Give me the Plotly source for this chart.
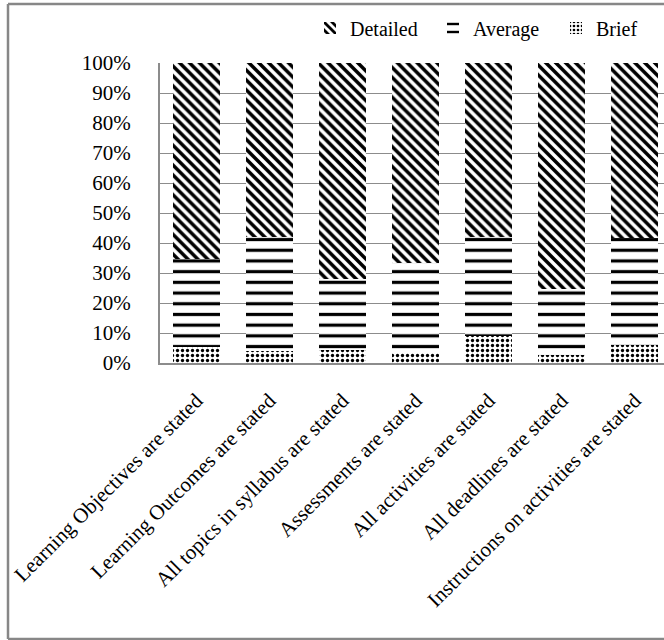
import plotly.graph_objects as go

# Share of syllabi by level of detail for each criterion (percent)
categories = [
    "Learning Objectives are stated",
    "Learning Outcomes are stated",
    "All topics in syllabus are stated",
    "Assessments are stated",
    "All activities are stated",
    "All deadlines are stated",
    "Instructions on activities are stated",
]
brief = [5.2, 4.1, 4.4, 3.2, 9.0, 2.7, 6.0]
average = [29.4, 38.0, 23.5, 30.0, 33.1, 21.9, 35.6]
detailed = [65.4, 57.9, 72.1, 66.8, 57.9, 75.4, 58.4]
y_ticks = [0, 10, 20, 30, 40, 50, 60, 70, 80, 90, 100]
y_tick_text = [f"{v}%" for v in y_ticks]

W, H = 664, 640
L, R, T, B = 160, 0, 63, 277
FONT = "Liberation Serif"


def px_x(x):
    return (x - L) / (W - L - R)


def px_y(y):
    return (H - B - y) / (H - T - B)


def bar_marker(shape, size, solidity):
    return dict(color="white", line=dict(width=0),
                pattern=dict(shape=shape, fgcolor="black", bgcolor="white",
                             fgopacity=1, size=size, solidity=solidity))


fig = go.Figure()
fig.add_bar(x=categories, y=brief, name="Brief",
            marker=bar_marker(".", 5, 0.35))
fig.add_bar(x=categories, y=average, name="Average",
            marker=bar_marker("-", 10.7, 0.3))
fig.add_bar(x=categories, y=detailed, name="Detailed",
            marker=bar_marker("\\", 7, 0.5))

# outer chart frame (right edge lies beyond the visible page)
frame = dict(type="line", xref="paper", yref="paper",
             line=dict(color="#878787", width=2.5))
fig.add_shape(**frame, x0=px_x(8), x1=px_x(8), y0=px_y(4), y1=px_y(639))
fig.add_shape(**frame, x0=px_x(8), x1=px_x(700), y0=px_y(4), y1=px_y(4))
fig.add_shape(**frame, x0=px_x(8), x1=px_x(700), y0=px_y(639), y1=px_y(639))

fig.update_layout(
    width=W, height=H,
    margin=dict(l=L, r=R, t=T, b=B, pad=0, autoexpand=False),
    paper_bgcolor="white", plot_bgcolor="white",
    barmode="stack", bargap=0.356,
    font=dict(family=FONT, size=20, color="black"),
    showlegend=True,
    legend=dict(orientation="h", traceorder="reversed",
                xref="container", yref="container",
                x=310 / W, xanchor="left", y=1 - 28 / H, yanchor="middle",
                font=dict(family=FONT, size=20, color="black"),
                entrywidth=78, bgcolor="rgba(0,0,0,0)"),
    xaxis=dict(range=[-0.5, 6.4], showgrid=False, tickangle=-45,
               showline=True, linecolor="#8c8c8c", linewidth=2,
               ticks="", ticklabelstandoff=15,
               tickfont=dict(family=FONT, size=21, color="black")),
    yaxis=dict(range=[0, 100], tickvals=y_ticks, ticktext=y_tick_text,
               showgrid=True, gridcolor="#8c8c8c", gridwidth=1.2,
               showline=True, linecolor="#8c8c8c", linewidth=2,
               zeroline=False, ticks="", ticklabelstandoff=23,
               tickfont=dict(family=FONT, size=21, color="black")),
)

fig.write_html("out.html")
